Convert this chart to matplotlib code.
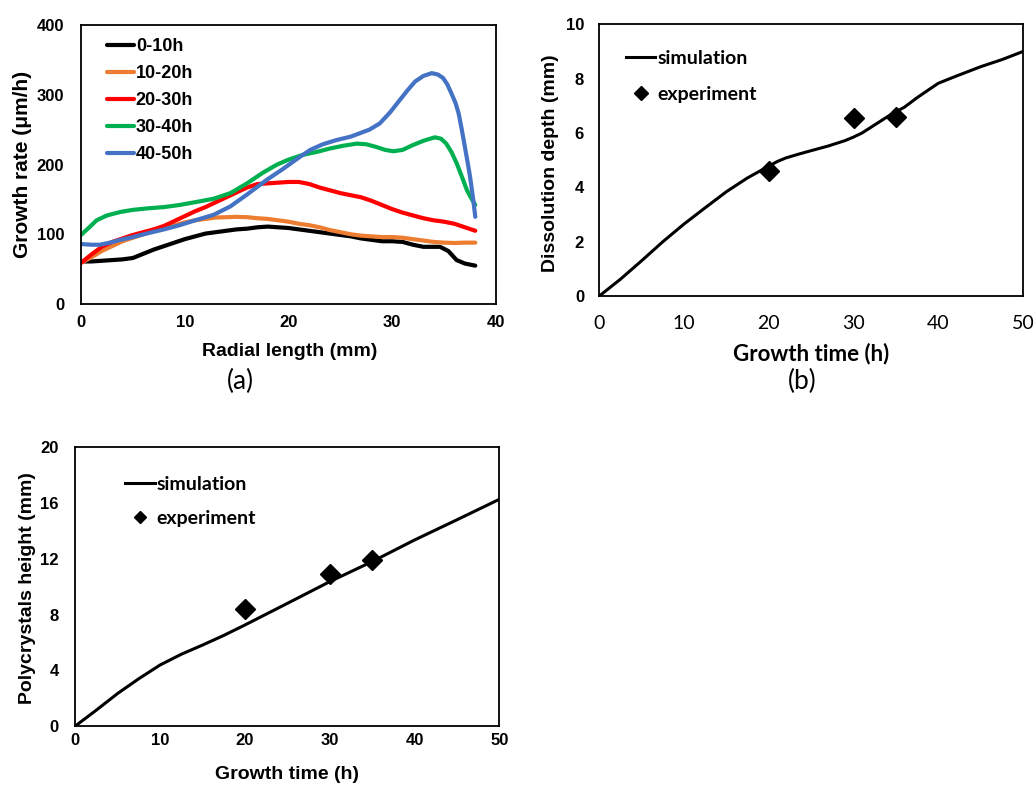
import numpy as np
import matplotlib.pyplot as plt
from matplotlib.lines import Line2D

# panel (a) growth rate vs radial length (mm, um/h)
x_0_10 = [0, 1, 2, 3, 4, 5, 6, 7, 8, 9, 10, 11, 12, 13, 14, 15, 16, 17, 18, 19, 20, 21, 22, 23, 24, 25,
          26, 27, 28, 29, 30, 31, 32, 33, 34, 34.6, 35.4, 36.2, 37, 38]
rate_0_10 = [61, 61, 62, 63, 64, 66, 72, 78, 83, 88, 93, 97, 101, 103, 105, 107, 108, 110, 111, 110, 109, 107,
             105, 103, 101, 99, 97, 94, 92, 90, 90, 89, 85, 82, 82, 82, 76, 63, 58, 55]
x_10_20 = list(range(0, 39))
rate_10_20 = [59, 67, 76, 83, 90, 95, 100, 105, 109, 113, 117, 120, 122, 124, 124.5, 125, 124.5, 123, 122, 120,
              118, 115, 113, 110, 106, 103, 100, 98, 97, 96, 96, 95, 93, 91, 89, 88, 87.5, 88, 88]
x_20_30 = list(range(0, 39))
rate_20_30 = [59, 71, 82, 89, 94, 99, 103, 107, 112, 119, 126, 133, 139, 146, 153, 160, 167, 172, 173, 174,
              175, 175, 172, 167, 163, 159, 156, 153, 148, 142, 136, 131, 127, 123, 120, 118, 115, 110, 105]
x_30_40 = [0, 0.8, 1.5, 2.5, 3.8, 5, 6.3, 8, 9.5, 11, 12.8, 14.4, 16, 17.5, 18.9, 20, 21.4, 22.7, 24, 25.3,
           26.6, 27.5, 28.5, 29.3, 30.1, 31, 32, 33, 34.1, 34.7, 35.2, 35.7, 36.2, 36.7, 37.2, 37.6, 38]
rate_30_40 = [99, 110, 120, 127, 132, 135, 137, 139, 142, 146, 151, 159, 173, 188, 200, 207, 214, 218, 223, 227,
              230, 229, 225, 221, 219, 221, 228, 234, 239, 237, 230, 218, 202, 183, 163, 152, 142]
x_40_50 = [0, 1, 1.8, 2.8, 3.8, 5, 6.3, 8, 9.5, 11, 12.8, 14.4, 16, 17.9, 19.5, 21, 22.1, 23.3, 24.6, 26,
           26.9, 27.8, 28.8, 29.8, 30.7, 31.5, 32.2, 33, 33.8, 34.4, 34.9, 35.3, 35.7, 36.1, 36.4, 36.7,
           37.0, 37.3, 37.5, 37.8, 38.0]
rate_40_50 = [86, 85, 85, 88, 92, 96, 101, 107, 113, 120, 128, 140, 157, 178, 194, 210, 221, 229, 235, 240,
              245, 250, 259, 275, 292, 307, 319, 327, 331, 329, 324, 315, 302, 288, 273, 250, 225, 200, 182,
              150, 125]
series_a = [("0-10h", x_0_10, rate_0_10, "#000000"), ("10-20h", x_10_20, rate_10_20, "#ED7D31"),
            ("20-30h", x_20_30, rate_20_30, "#FF0000"), ("30-40h", x_30_40, rate_30_40, "#00B050"),
            ("40-50h", x_40_50, rate_40_50, "#4472C4")]

# panel (b) dissolution depth
time_b = [0, 2.5, 5, 7.5, 10, 12.5, 15, 17.5, 20, 21, 22, 23.5, 25, 27, 29, 30, 31, 32, 33, 34, 35, 36,
          37.5, 39, 40, 42, 45, 47.5, 50]
depth_sim = [0, 0.62, 1.3, 2.0, 2.65, 3.25, 3.84, 4.35, 4.78, 4.95, 5.08, 5.22, 5.35, 5.52, 5.72, 5.85, 6.0,
             6.2, 6.4, 6.6, 6.78, 6.95, 7.3, 7.62, 7.83, 8.08, 8.44, 8.7, 9.0]
exp_time = [20, 30, 35]
depth_exp = [4.6, 6.55, 6.6]

# panel (c) polycrystals height
time_c = [0, 2.5, 5, 7.5, 10, 12.5, 15, 17.5, 20, 25, 30, 35, 40, 45, 50]
height_sim = [0, 1.15, 2.34, 3.4, 4.38, 5.15, 5.81, 6.5, 7.25, 8.8, 10.36, 11.8, 13.35, 14.8, 16.27]
height_exp = [8.4, 10.9, 11.9]

ARIAL = "Liberation Sans"
CAL = "Lato"

fig = plt.figure(figsize=(10.36, 7.87), dpi=100)

def frame(ax):
    for s in ax.spines.values():
        s.set_linewidth(1.3)
        s.set_color("black")
    ax.tick_params(length=0)

# (a)
ax = fig.add_axes([0.0782, 0.6137, 0.4006, 0.3545])
for lab, xs, vals, col in series_a:
    ax.plot(xs, vals, color=col, lw=3, label=lab, solid_capstyle="round", solid_joinstyle="round")
ax.set_xlim(0, 40)
ax.set_ylim(0, 400)
ax.set_xticks(range(0, 41, 10))
ax.set_yticks(range(0, 401, 100))
frame(ax)
ax.tick_params(axis="y", pad=12)
ax.tick_params(axis="x", pad=8)
for t in ax.get_xticklabels() + ax.get_yticklabels():
    t.set_fontfamily(ARIAL); t.set_fontweight("bold"); t.set_fontsize(12)
ax.set_xlabel("Radial length (mm)", fontfamily=ARIAL, fontweight="bold", fontsize=14)
ax.set_ylabel("Growth rate (μm/h)", fontfamily=ARIAL, fontweight="bold", fontsize=15)
ax.xaxis.set_label_coords(0.504, -0.14)
ax.yaxis.set_label_coords(-0.118, 0.5)
ax.legend(loc="upper left", bbox_to_anchor=(0.045, 0.978), frameon=False,
          prop={"family": ARIAL, "weight": "bold", "size": 13},
          handlelength=1.5, handletextpad=0.1, labelspacing=0.55, borderaxespad=0.0)

# (b)
ax = fig.add_axes([0.5785, 0.6239, 0.409, 0.3452])
ax.plot(time_b, depth_sim, color="black", lw=2.2)
ax.plot(exp_time, depth_exp, "D", color="black", ms=10.5, ls="none")
ax.set_xlim(0, 50)
ax.set_ylim(0, 10)
ax.set_xticks(range(0, 51, 10))
ax.set_yticks(range(0, 11, 2))
frame(ax)
ax.tick_params(axis="y", pad=11)
ax.tick_params(axis="x", pad=14)
for t in ax.get_yticklabels():
    t.set_fontfamily(ARIAL); t.set_fontweight("bold"); t.set_fontsize(12)
for t in ax.get_xticklabels():
    t.set_fontfamily(CAL); t.set_fontsize(14)
ax.set_xlabel("Growth time (h)", fontfamily=CAL, fontweight="bold", fontsize=16)
ax.set_ylabel("Dissolution depth (mm)", fontfamily=ARIAL, fontweight="bold", fontsize=14)
ax.xaxis.set_label_coords(0.5, -0.17)
ax.yaxis.set_label_coords(-0.094, 0.49)
handles = [Line2D([], [], color="black", lw=2.2),
           Line2D([], [], marker="D", color="black", ls="none", ms=7)]
ax.legend(handles, ["simulation", "experiment"], loc="upper left", bbox_to_anchor=(0.045, 0.935),
          frameon=False, prop={"family": CAL, "weight": "bold", "size": 14},
          handlelength=1.5, handletextpad=0.1, labelspacing=1.0, borderaxespad=0.0)

# (c)
ax = fig.add_axes([0.0727, 0.0775, 0.4093, 0.3541])
ax.plot(time_c, height_sim, color="black", lw=2.2)
ax.plot(exp_time, height_exp, "D", color="black", ms=10.5, ls="none")
ax.set_xlim(0, 50)
ax.set_ylim(0, 20)
ax.set_xticks(range(0, 51, 10))
ax.set_yticks(range(0, 21, 4))
frame(ax)
ax.tick_params(axis="y", pad=12)
ax.tick_params(axis="x", pad=5)
for t in ax.get_xticklabels() + ax.get_yticklabels():
    t.set_fontfamily(ARIAL); t.set_fontweight("bold"); t.set_fontsize(12)
ax.set_xlabel("Growth time (h)", fontfamily=ARIAL, fontweight="bold", fontsize=14)
ax.set_ylabel("Polycrystals height (mm)", fontfamily=ARIAL, fontweight="bold", fontsize=14)
ax.xaxis.set_label_coords(0.5, -0.145)
ax.yaxis.set_label_coords(-0.092, 0.495)
handles = [Line2D([], [], color="black", lw=2.2),
           Line2D([], [], marker="D", color="black", ls="none", ms=6)]
ax.legend(handles, ["simulation", "experiment"], loc="upper left", bbox_to_anchor=(0.1, 0.925),
          frameon=False, prop={"family": CAL, "weight": "bold", "size": 14},
          handlelength=1.5, handletextpad=0.1, labelspacing=0.85, borderaxespad=0.0)

fig.text(240 / 1036, 1 - 381 / 787, "(a)", ha="center", va="center", fontfamily=CAL, fontsize=19)
fig.text(802 / 1036, 1 - 381 / 787, "(b)", ha="center", va="center", fontfamily=CAL, fontsize=19)

fig.savefig("out.png", dpi=100)
